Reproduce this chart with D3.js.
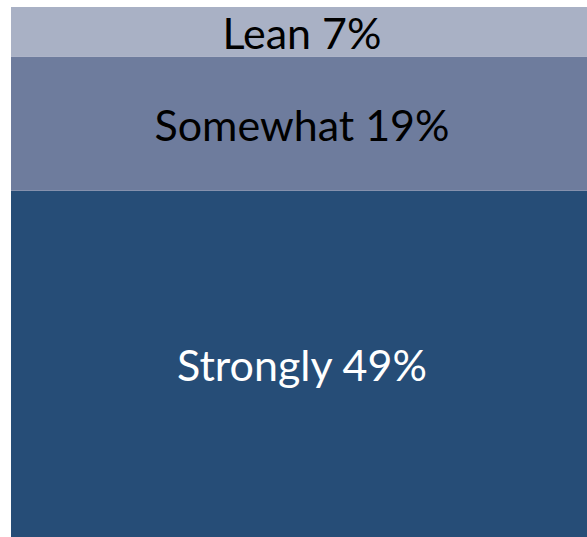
<!DOCTYPE html>
<html><head><meta charset="utf-8">
<script src="https://cdn.jsdelivr.net/npm/d3@7"></script>
<style>html,body{margin:0;padding:0;background:#fff;overflow:hidden}</style>
</head><body>
<svg id="chart" width="587" height="537"></svg>
<script>
const categories = ["Strongly", "Somewhat", "Lean"];
const values = [49, 19, 7];
const colors = ["#264D77", "#6E7C9D", "#A9B1C5"];
const textColors = ["#ffffff", "#000000", "#000000"];

const svg = d3.select("#chart");
const total = d3.sum(values);
const y = d3.scaleLinear().domain([0, total]).range([537, 7]);
const x = d3.scaleBand().domain(["all"]).range([11, 587]).padding(0);

let cum = 0;
const data = categories.map((c, i) => {
  const d = {cat: c, v: values[i], y0: cum, y1: cum + values[i], color: colors[i], tc: textColors[i]};
  cum += values[i];
  return d;
});

svg.selectAll("rect").data(data).join("rect")
  .attr("x", x("all")).attr("width", x.bandwidth())
  .attr("y", d => y(d.y1)).attr("height", d => y(d.y0) - y(d.y1))
  .attr("fill", d => d.color);

svg.selectAll("text.lbl").data(data).join("text")
  .attr("class", "lbl")
  .attr("x", x("all") + x.bandwidth() / 2 + 3)
  .attr("y", d => (y(d.y0) + y(d.y1)) / 2 + 1)
  .attr("text-anchor", "middle")
  .attr("dominant-baseline", "central")
  .attr("font-family", "Lato, 'Open Sans', sans-serif")
  .attr("font-size", 43)
  .attr("fill", d => d.tc)
  .text(d => `${d.cat} ${d.v}%`);
</script>
</body></html>
